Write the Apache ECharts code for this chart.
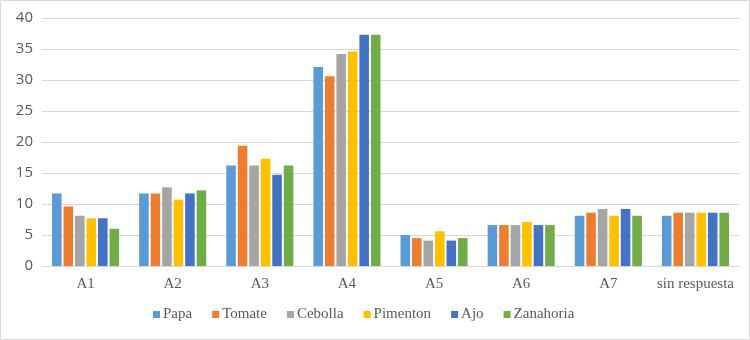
<!DOCTYPE html>
<html><head><meta charset="utf-8">
<script src="https://cdn.jsdelivr.net/npm/echarts@6/dist/echarts.min.js"></script>
<style>html,body{margin:0;padding:0;background:#fff}#c{width:750px;height:340px}</style>
</head><body><div id="c"></div>
<script>
const categories = ['A1','A2','A3','A4','A5','A6','A7','sin respuesta'];
const seriesNames = ['Papa','Tomate','Cebolla','Pimenton','Ajo','Zanahoria'];
const papa      = [11.7, 11.7, 16.2, 32.1, 5.0, 6.6, 8.1, 8.1];
const tomate    = [9.6, 11.7, 19.4, 30.6, 4.5, 6.6, 8.6, 8.6];
const cebolla   = [8.1, 12.7, 16.2, 34.2, 4.1, 6.6, 9.2, 8.6];
const pimenton  = [7.7, 10.7, 17.3, 34.6, 5.6, 7.1, 8.1, 8.6];
const ajo       = [7.7, 11.7, 14.7, 37.3, 4.1, 6.6, 9.2, 8.6];
const zanahoria = [6.0, 12.2, 16.2, 37.3, 4.5, 6.6, 8.1, 8.6];
const yTicks = [0,5,10,15,20,25,30,35,40];
const colors = ['#5B9BD5','#ED7D31','#A5A5A5','#FFC000','#4472C4','#70AD47'];
const values = [papa, tomate, cebolla, pimenton, ajo, zanahoria];

const chart = echarts.init(document.getElementById('c'));
chart.setOption({
  animation: false,
  color: colors,
  textStyle: {fontFamily: 'Liberation Serif'},
  grid: {left: 42, right: 11, top: 18, bottom: 74},
  graphic: [{type:'rect', shape:{x:0.5,y:0.5,width:749,height:339}, style:{fill:'none', stroke:'#d9d9d9', lineWidth:1}, silent:true}],
  legend: {
    bottom: 13, left: 148, itemWidth: 7, itemHeight: 7, itemGap: 20,
    icon: 'rect',
    textStyle: {fontFamily: 'Liberation Serif', fontSize: 15, color: '#595959', padding:[0,0,0,-2]},
    data: seriesNames
  },
  xAxis: {
    type: 'category', data: categories,
    axisLine: {lineStyle: {color: '#d9d9d9'}},
    axisTick: {show: false},
    axisLabel: {interval: 0, fontFamily: 'Liberation Serif', fontSize: 15, color: '#595959', margin: 11}
  },
  yAxis: {
    type: 'value', min: yTicks[0], max: yTicks[yTicks.length-1], interval: 5,
    axisLine: {show: false}, axisTick: {show: false},
    splitLine: {lineStyle: {color: '#d9d9d9'}},
    axisLabel: {fontFamily: 'Open Sans', fontSize: 15, color: '#595959', margin: 9}
  },
  series: seriesNames.map((n,i)=>({
    name: n, type: 'bar', data: values[i],
    barGap: '20%', barCategoryGap: '23%'
  }))
});
</script></body></html>
